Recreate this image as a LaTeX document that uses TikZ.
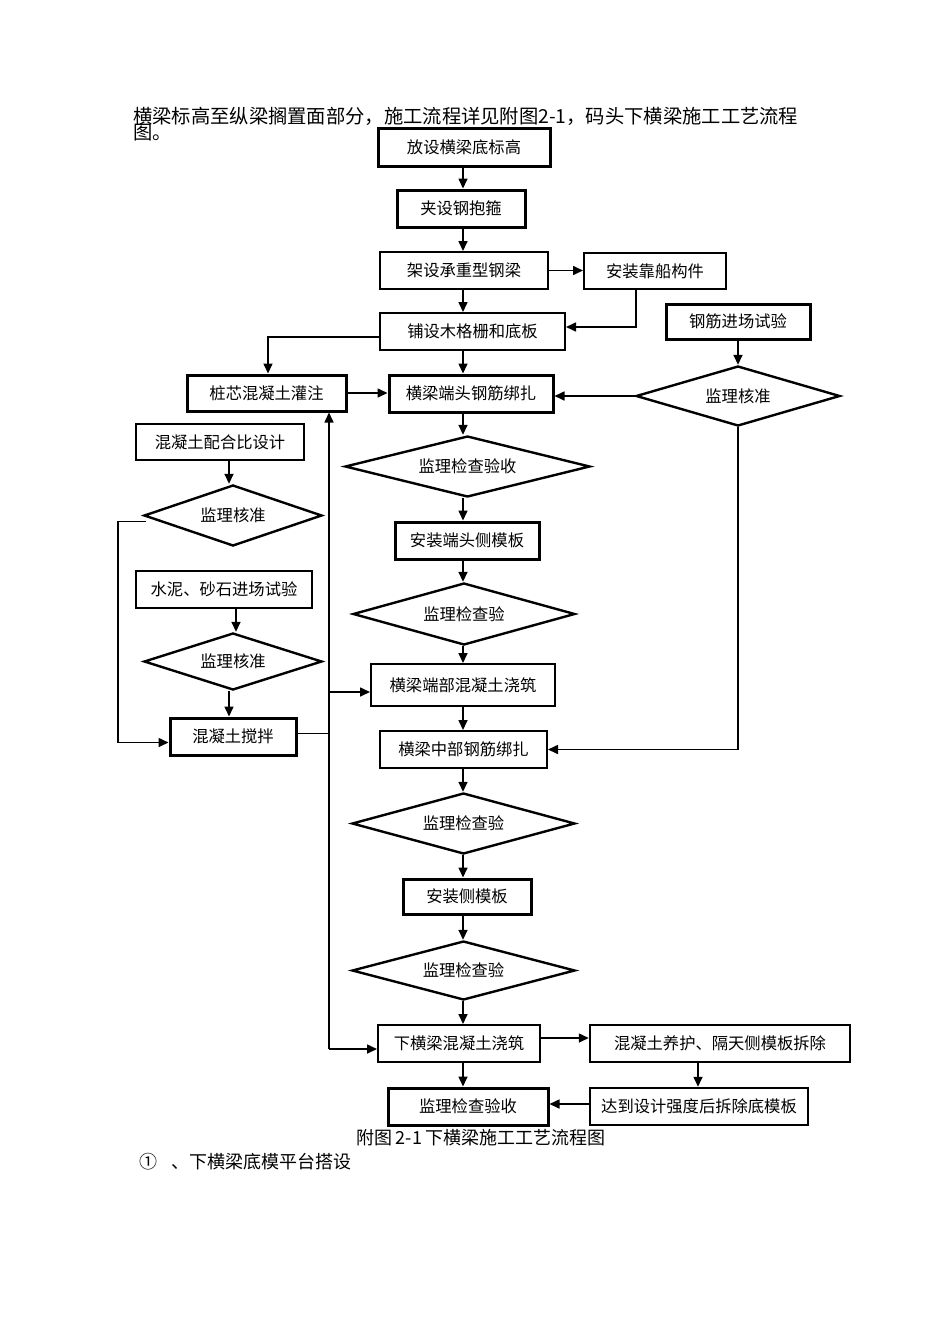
\documentclass[tikz,border=0pt]{standalone}
\usepackage{fontspec}
\newfontfamily\cjk{Noto Sans CJK SC}
\usetikzlibrary{shapes.geometric,arrows.meta}
\begin{document}
\begin{tikzpicture}[x=1pt,y=-1pt,
  box/.style={draw,line width=2pt,inner sep=0pt,font=\cjk\fontsize{16.3}{19}\selectfont},
  bbox/.style={box,line width=3pt},
  dia/.style={diamond,draw,line width=2.4pt,inner sep=0pt,aspect=3.5,font=\cjk\fontsize{16.3}{19}\selectfont},
  arr/.style={line width=1.6pt,-{Triangle[length=10pt,width=9pt]}},
  ln/.style={line width=1.6pt},
  txt/.style={inner sep=0pt,font=\cjk\fontsize{19.3}{21}\selectfont}]
\useasboundingbox (0,0) rectangle (950,1344);
\fill[white] (0,0) rectangle (950,1344);

\node[txt,anchor=west] (t1) at (133,116) {横梁标高至纵梁搁置面部分，施工流程详见附图2-1，码头下横梁施工工艺流程};
\node[txt,anchor=west] (t2) at (133,133) {图。};

\node[bbox,minimum width=172pt,minimum height=38pt] (A) at (464,147) {放设横梁底标高};
\node[bbox,minimum width=128pt,minimum height=37pt] (B) at (461,208.5) {夹设钢抱箍};
\node[box,minimum width=168pt,minimum height=37pt] (C) at (464,270.5) {架设承重型钢梁};
\node[box,minimum width=142pt,minimum height=36pt] (D) at (655,271) {安装靠船构件};
\node[box,minimum width=185pt,minimum height=37pt] (E) at (472.5,331.5) {铺设木格栅和底板};
\node[bbox,minimum width=144pt,minimum height=35pt] (F) at (738,321.5) {钢筋进场试验};
\node[bbox,minimum width=159pt,minimum height=36pt] (G) at (266.5,393) {桩芯混凝土灌注};
\node[bbox,minimum width=164pt,minimum height=37pt] (H) at (471,393.5) {横梁端头钢筋绑扎};
\node[dia,minimum width=204pt,minimum height=60pt] (I) at (738,396) {监理核准};
\node[box,minimum width=168pt,minimum height=36pt] (J) at (220,442) {混凝土配合比设计};
\node[dia,minimum width=245pt,minimum height=61pt] (K) at (467.5,466.5) {监理检查验收};
\node[dia,minimum width=178pt,minimum height=61pt] (L) at (233,515.5) {监理核准};
\node[bbox,minimum width=144pt,minimum height=37pt] (M) at (467,540.5) {安装端头侧模板};
\node[box,minimum width=176pt,minimum height=37pt] (N) at (224,589.5) {水泥、砂石进场试验};
\node[dia,minimum width=222pt,minimum height=62pt] (O) at (464,614) {监理检查验};
\node[dia,minimum width=178pt,minimum height=57pt] (P) at (233,661.5) {监理核准};
\node[box,minimum width=184pt,minimum height=42pt] (Q) at (463,685) {横梁端部混凝土浇筑};
\node[bbox,minimum width=126pt,minimum height=37pt] (R) at (233,736.5) {混凝土搅拌};
\node[box,minimum width=167pt,minimum height=37pt] (S) at (463.5,749.5) {横梁中部钢筋绑扎};
\node[dia,minimum width=223pt,minimum height=61pt] (T) at (463.5,823.5) {监理检查验};
\node[bbox,minimum width=128pt,minimum height=35pt] (U) at (467,896.5) {安装侧模板};
\node[dia,minimum width=223pt,minimum height=59pt] (V) at (463.5,970.5) {监理检查验};
\node[box,minimum width=162pt,minimum height=37pt] (W) at (459,1043.5) {下横梁混凝土浇筑};
\node[box,line width=2.5pt,minimum width=260pt,minimum height=37pt] (X) at (720,1043.5) {混凝土养护、隔天侧模板拆除};
\node[bbox,minimum width=160pt,minimum height=37pt] (Y) at (468,1106.5) {监理检查验收};
\node[box,line width=2.5pt,minimum width=218pt,minimum height=37pt] (Z) at (699,1106.5) {达到设计强度后拆除底模板};

\node[txt,font=\cjk\fontsize{18}{20}\selectfont] (cap) at (481,1138) {附图\,2-1\,下横梁施工工艺流程图};
\node[txt,anchor=west,font=\cjk\fontsize{18}{20}\selectfont] (sec) at (139,1162) {①\hspace{14pt}、下横梁底模平台搭设};

% main column
\coordinate (col) at (463,0);
\draw[arr] (col|-A.south) -- (col|-B.north);
\draw[arr] (col|-B.south) -- (col|-C.north);
\draw[arr] (col|-C.south) -- (col|-E.north);
\draw[arr] (col|-E.south) -- (col|-H.north);
\draw[arr] (col|-H.south) -- (col|-K.north);
\draw[arr] (col|-K.south) -- (col|-M.north);
\draw[arr] (col|-M.south) -- (col|-O.north);
\draw[arr] (col|-O.south) -- (col|-Q.north);
\draw[arr] (col|-Q.south) -- (col|-S.north);
\draw[arr] (col|-S.south) -- (col|-T.north);
\draw[arr] (col|-T.south) -- (col|-U.north);
\draw[arr] (col|-U.south) -- (col|-V.north);
\draw[arr] (col|-V.south) -- (col|-W.north);
\draw[arr] (col|-W.south) -- (col|-Y.north);

% upper right
\draw[arr] (C.east) -- (C.east-|D.west);
\coordinate (de) at (636,327);
\draw[arr] (de|-D.south) -- (de) -- (de-|E.east);
\coordinate (eg) at (268,337);
\draw[arr] (eg-|E.west) -- (eg) -- (eg|-G.north);
\draw[arr] (G.east) -- (G.east-|H.west);
\draw[arr] (F.south) -- (I.north);
\draw[arr] (I.west) -- (I.west-|H.east);
\draw[arr] (I.south) |- (S.east);

% left column
\coordinate (jl) at (229,0);
\draw[arr] (jl|-J.south) -- (jl|-L.north);
\coordinate (np) at (236,0);
\draw[arr] (np|-N.south) -- (np|-P.north);
\coordinate (pr) at (229,0);
\draw[arr] (pr|-P.south) -- (pr|-R.north);
\draw[arr] ([shift={(3,6)}]L.west) -- ++(-28,0) |- ([shift={(0,6)}]R.west);

% bus
\coordinate (bus) at (329,0);
\coordinate (bw) at (329,1049);
\coordinate (bq) at (329,692);
\coordinate (rb) at ([shift={(0,-3)}]R.east);
\draw[ln] (rb) -- (bus|-rb);
\draw[arr] (bw) -- (bus|-G.south);
\draw[arr] (bw) -- (bw-|W.west);
\draw[arr] (bq) -- (bq-|Q.west);

% bottom
\coordinate (wx) at (0,1038);
\draw[arr] (W.east|-wx) -- (X.west|-wx);
\coordinate (xz) at (698,0);
\draw[arr] (xz|-X.south) -- (xz|-Z.north);
\coordinate (zy) at (0,1104);
\draw[arr] (Z.west|-zy) -- (Y.east|-zy);
\end{tikzpicture}
\end{document}
